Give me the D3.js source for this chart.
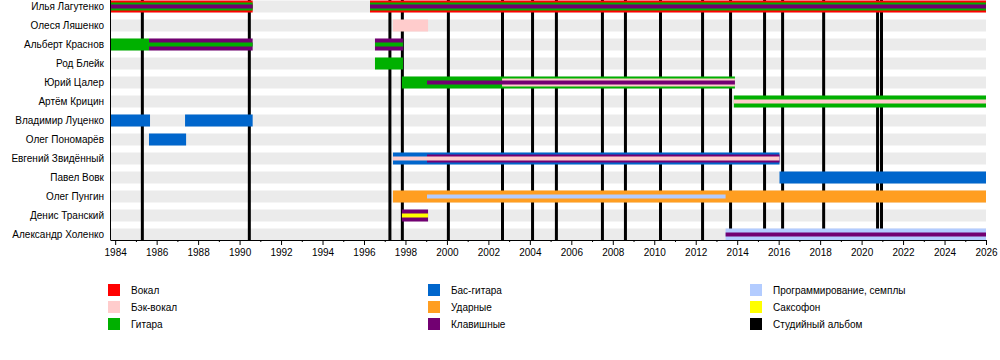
<!DOCTYPE html>
<html>
<head>
<meta charset="utf-8">
<script src="https://cdn.jsdelivr.net/npm/d3@7/dist/d3.min.js"></script>
<style>
  html, body { margin: 0; padding: 0; background: #fff; }
  svg { display: block; font-family: "Liberation Sans", Arial, sans-serif; }
</style>
</head>
<body>
<svg id="chart" width="1000" height="360"></svg>
<script>
// ---------- DATA ----------
const members = [
  "Илья Лагутенко", "Олеся Ляшенко", "Альберт Краснов", "Род Блейк",
  "Юрий Цалер", "Артём Крицин", "Владимир Луценко", "Олег Пономарёв",
  "Евгений Звидённый", "Павел Вовк", "Олег Пунгин", "Денис Транский",
  "Александр Холенко"
];

const roleNames  = ["Вокал", "Бэк-вокал", "Гитара", "Бас-гитара", "Ударные", "Клавишные",
                    "Программирование, семплы", "Саксофон", "Студийный альбом"];
const roleColors = ["#ff0000", "#ffcccc", "#00b000", "#0066cc", "#ff9e21", "#720072",
                    "#b3ccff", "#ffff00", "#000000"];

// [member, role, from, to, rank]  (rank 0 = main bar, 1 = second, 2 = third)
const periods = [
  ["Илья Лагутенко", "Вокал", 1983.75, 1990.63, 0],
  ["Илья Лагутенко", "Гитара", 1983.75, 1990.63, 1],
  ["Илья Лагутенко", "Клавишные", 1983.75, 1990.63, 2],
  ["Илья Лагутенко", "Вокал", 1996.29, 2026, 0],
  ["Илья Лагутенко", "Гитара", 1996.29, 2026, 1],
  ["Илья Лагутенко", "Клавишные", 1996.29, 2026, 2],
  ["Олеся Ляшенко", "Бэк-вокал", 1997.40, 1999.09, 0],
  ["Альберт Краснов", "Гитара", 1983.75, 1985.63, 0],
  ["Альберт Краснов", "Клавишные", 1985.63, 1990.63, 0],
  ["Альберт Краснов", "Гитара", 1985.63, 1990.63, 2],
  ["Альберт Краснов", "Клавишные", 1996.53, 1997.88, 0],
  ["Альберт Краснов", "Гитара", 1996.53, 1997.88, 2],
  ["Род Блейк", "Гитара", 1996.53, 1997.88, 0],
  ["Юрий Цалер", "Гитара", 1997.83, 2013.89, 0],
  ["Юрий Цалер", "Бэк-вокал", 2002.66, 2013.89, 1],
  ["Юрий Цалер", "Клавишные", 1999.04, 2013.89, 2],
  ["Артём Крицин", "Гитара", 2013.84, 2026, 0],
  ["Артём Крицин", "Бэк-вокал", 2013.84, 2026, 2],
  ["Владимир Луценко", "Бас-гитара", 1983.75, 1985.68, 0],
  ["Владимир Луценко", "Бас-гитара", 1987.37, 1990.63, 0],
  ["Олег Пономарёв", "Бас-гитара", 1985.63, 1987.42, 0],
  ["Евгений Звидённый", "Бас-гитара", 1997.40, 2016.04, 0],
  ["Евгений Звидённый", "Клавишные", 1999.04, 2016.04, 1],
  ["Евгений Звидённый", "Бэк-вокал", 1997.40, 2016.04, 2],
  ["Павел Вовк", "Бас-гитара", 2016.04, 2026, 0],
  ["Олег Пунгин", "Ударные", 1997.40, 2026, 0],
  ["Олег Пунгин", "Программирование, семплы", 1999.04, 2013.44, 2],
  ["Денис Транский", "Клавишные", 1997.83, 1999.09, 0],
  ["Денис Транский", "Саксофон", 1997.83, 1999.09, 2],
  ["Александр Холенко", "Программирование, семплы", 2013.44, 2026, 0],
  ["Александр Холенко", "Клавишные", 2013.44, 2026, 2]
];

const albumDates = [1985.31, 1990.47, 1997.25, 1997.85, 2000.07, 2002.68, 2004.13, 2005.28,
                    2007.50, 2008.61, 2010.30, 2012.33, 2013.68, 2015.32, 2016.19, 2018.17,
                    2020.77, 2020.96];

const majorTicks = d3.range(1984, 2027, 2);
const minorTicks = d3.range(1985, 2026, 2);

// ---------- LAYOUT ----------
const svg = d3.select("#chart");
const x = d3.scaleLinear().domain([1983.75, 2026]).range([110, 986]);
const y = d3.scalePoint().domain(members).range([6.5, 234.5]);
const axisY = 240;
const color = d3.scaleOrdinal().domain(roleNames).range(roleColors);
const rankHeight = [12, 8, 4];

// background stripes
svg.append("g").selectAll("rect").data(members).join("rect")
  .attr("x", x.range()[0]).attr("width", x.range()[1] - x.range()[0])
  .attr("y", d => y(d) - 6).attr("height", 12)
  .attr("fill", "#ebebeb");

// album lines
svg.append("g").selectAll("line").data(albumDates).join("line")
  .attr("x1", d => x(d)).attr("x2", d => x(d))
  .attr("y1", 0).attr("y2", axisY)
  .attr("stroke", "#000").attr("stroke-width", 3);

// bars
const sorted = periods.slice().sort((a, b) => a[4] - b[4]);
svg.append("g").selectAll("rect").data(sorted).join("rect")
  .attr("x", d => x(d[2]))
  .attr("width", d => x(d[3]) - x(d[2]))
  .attr("y", d => y(d[0]) - rankHeight[d[4]] / 2)
  .attr("height", d => rankHeight[d[4]])
  .attr("fill", d => color(d[1]));

// left border
svg.append("line")
  .attr("x1", 110.5).attr("x2", 110.5).attr("y1", 0).attr("y2", axisY)
  .attr("stroke", "#000").attr("stroke-width", 1);

// member labels
svg.append("g").selectAll("text").data(members).join("text")
  .attr("x", 104).attr("y", d => y(d)).attr("dy", "0.35em")
  .attr("text-anchor", "end").attr("font-size", 10).attr("fill", "#000")
  .text(d => d);

// axis
const gMajor = svg.append("g").attr("transform", `translate(0,${axisY})`)
  .call(d3.axisBottom(x).tickValues(majorTicks).tickFormat(d3.format("d"))
    .tickSize(5).tickSizeOuter(0).tickPadding(4));
gMajor.selectAll("text").attr("font-size", 10).attr("fill", "#000")
  .style("font-family", "'Liberation Sans', Arial, sans-serif");
gMajor.selectAll("line, path").attr("stroke", "#000");

const gMinor = svg.append("g").attr("transform", `translate(0,${axisY})`)
  .call(d3.axisBottom(x).tickValues(minorTicks).tickFormat("").tickSize(2).tickSizeOuter(0));
gMinor.select(".domain").remove();
gMinor.selectAll("line").attr("stroke", "#000");

// legend
const legendCols = [108, 428, 750];
const legendRows = [284, 301, 318];
const legend = svg.append("g").selectAll("g").data(roleNames).join("g")
  .attr("transform", (d, i) => `translate(${legendCols[Math.floor(i / 3)]},${legendRows[i % 3]})`);
legend.append("rect").attr("width", 12).attr("height", 12).attr("fill", d => color(d));
legend.append("text").attr("x", 23).attr("y", 6).attr("dy", "0.35em")
  .attr("font-size", 10).attr("fill", "#000").text(d => d);
</script>
</body>
</html>
